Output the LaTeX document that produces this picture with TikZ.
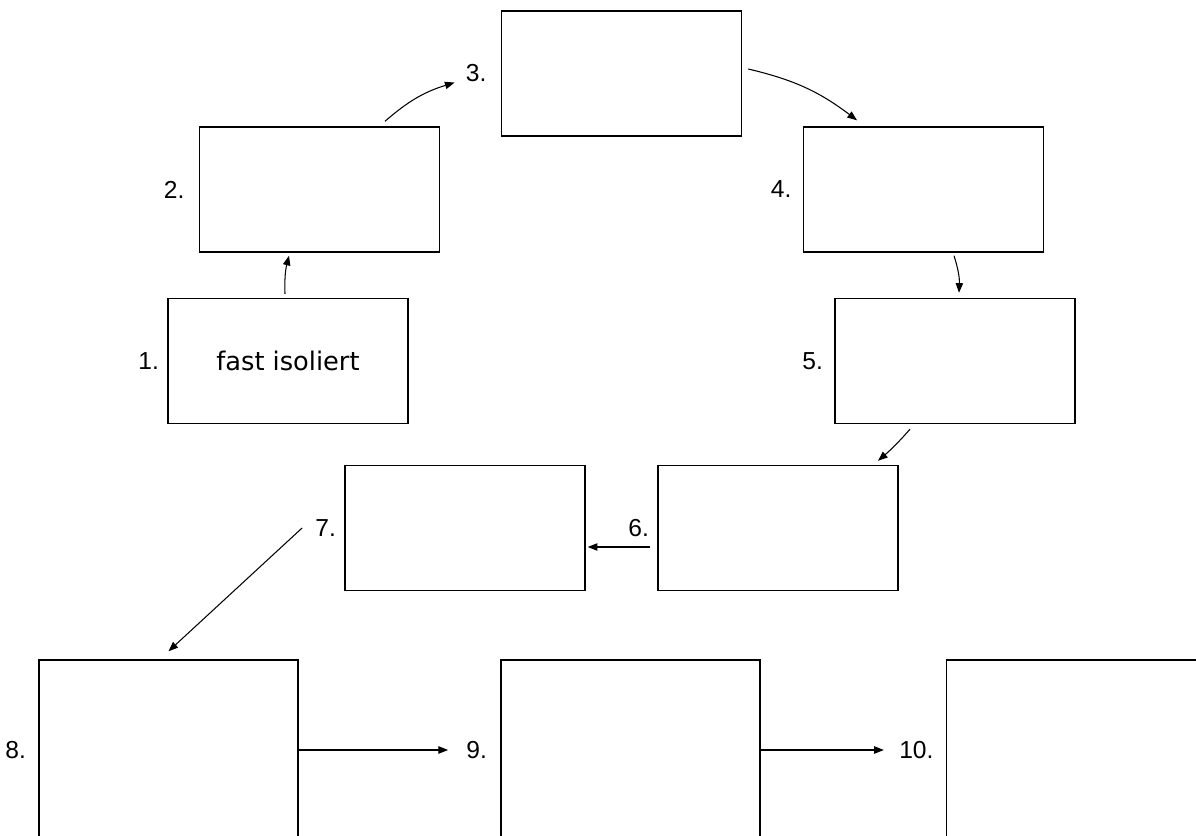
\documentclass[tikz,border=0pt]{standalone}
\usepackage{fontspec}
\setmainfont{Liberation Sans}
\newfontfamily\handfont{DejaVu Sans}
\usetikzlibrary{positioning,arrows.meta}

\begin{document}
\begin{tikzpicture}[
        feld/.style={draw,line width=0.8pt,minimum width=4.8cm,minimum height=2.5cm,inner sep=0pt},
        grossfeld/.style={feld,minimum width=5.18cm,minimum height=3.6cm},
        nr/.style={font=\fontsize{14}{16}\selectfont,inner sep=0pt},
        pfeil/.style={line width=0.6pt,-{Triangle[length=5.5pt,width=4.2pt]}}
    ]
        \useasboundingbox (0, 0) rectangle (23.92, -16.72);
        \clip (0, 0) rectangle (23.92, -16.72);
        % obere Runde
        \node[feld] (f1) at (5.76, -7.22) {\handfont\fontsize{14.6}{16}\selectfont fast isoliert};
        \node[feld] (f2) at (6.39, -3.79) {};
        \node[feld] (f3) at (12.43, -1.47) {};
        \node[feld] (f4) at (18.47, -3.79) {};
        \node[feld] (f5) at (19.10, -7.22) {};
        \node[feld] (f6) at (15.56, -10.56) {};
        \node[feld] (f7) at (9.30, -10.56) {};
        % untere Reihe
        \node[grossfeld] (f8) at (3.37, -15.0) {};
        \node[grossfeld] (f9) at (12.61, -15.0) {};
        \node[grossfeld] (f10) at (21.52, -15.0) {};
        % Nummern
        \node[nr, left=0.16cm of f1] (n1) {1.};
        \node[nr, left=0.28cm of f2] (n2) {2.};
        \node[nr, left=0.28cm of f3] (n3) {3.};
        \node[nr, left=0.22cm of f4] (n4) {4.};
        \node[nr, left=0.22cm of f5] (n5) {5.};
        \node[nr, left=0.16cm of f6] (n6) {6.};
        \node[nr, left=0.16cm of f7] (n7) {7.};
        \node[nr, left=0.24cm of f8] (n8) {8.};
        \node[nr, left=0.26cm of f9] (n9) {9.};
        \node[nr, left=0.24cm of f10] (n10) {10.};
        % Pfeile
        \draw[pfeil] ([xshift=-0.06cm,yshift=0.08cm]f1.north) to[bend left=8] ([xshift=-0.61cm,yshift=-0.06cm]f2.south);
        \draw[pfeil] ([xshift=1.31cm,yshift=0.1cm]f2.north) to[bend left=12] ([xshift=-0.22cm]n3.south west);
        \draw[pfeil] ([xshift=0.12cm,yshift=0.09cm]f3.east) to[bend left=12] ([xshift=-1.33cm,yshift=0.12cm]f4.north);
        \draw[pfeil] ([xshift=0.61cm,yshift=-0.06cm]f4.south) to[bend left=10] ([xshift=0.08cm,yshift=0.1cm]f5.north);
        \draw[pfeil] ([xshift=-0.9cm,yshift=-0.1cm]f5.south) to[bend left=4] ([xshift=2.0cm,yshift=0.08cm]f6.north);
        \draw[pfeil] ([xshift=-0.14cm,yshift=-0.38cm]f6.west) -- ([xshift=0.04cm,yshift=-0.38cm]f7.east);
        \draw[pfeil] ([xshift=-0.26cm]n7.west) -- ([yshift=0.16cm]f8.north);
        \draw[pfeil] (f8.east) -- ([xshift=-0.36cm]n9.west);
        \draw[pfeil] (f9.east) -- ([xshift=-0.3cm]n10.west);
    \end{tikzpicture}
\end{document}
